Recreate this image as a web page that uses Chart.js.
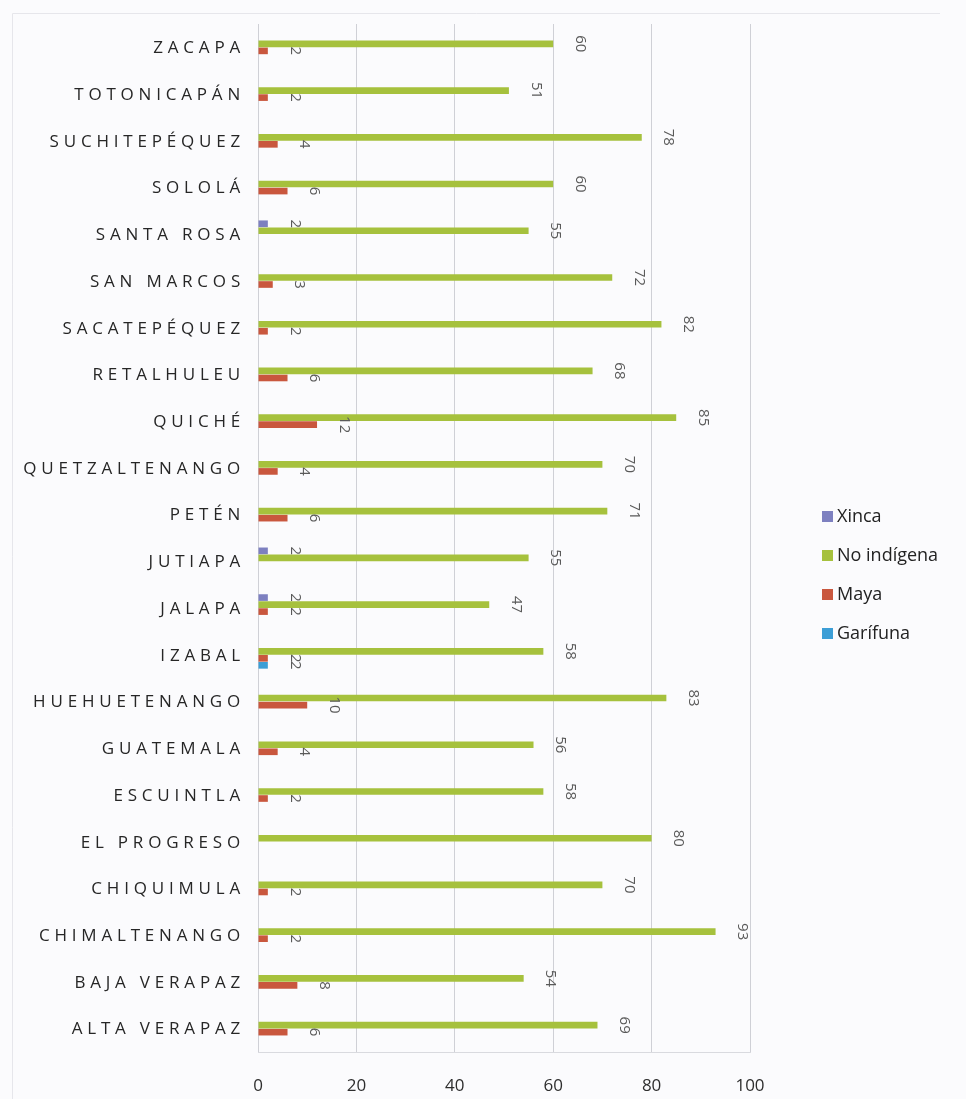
<!DOCTYPE html>
<html lang="es">
<head>
<meta charset="utf-8">
<title>Población por departamento</title>
<script src="https://cdn.jsdelivr.net/npm/chart.js@4.4.1/dist/chart.umd.min.js"></script>
<style>
  html, body { margin: 0; padding: 0; background: #fbfbfd; }
  #wrap { width: 966px; height: 1099px; }
</style>
</head>
<body>
<div id="wrap"><canvas id="myChart" width="966" height="1099"></canvas></div>
<script>
'use strict';
//Data (top to bottom as in the chart)
const departamentos = ['ZACAPA', 'TOTONICAPÁN', 'SUCHITEPÉQUEZ', 'SOLOLÁ', 'SANTA ROSA', 'SAN MARCOS',
  'SACATEPÉQUEZ', 'RETALHULEU', 'QUICHÉ', 'QUETZALTENANGO', 'PETÉN', 'JUTIAPA', 'JALAPA', 'IZABAL',
  'HUEHUETENANGO', 'GUATEMALA', 'ESCUINTLA', 'EL PROGRESO', 'CHIQUIMULA', 'CHIMALTENANGO',
  'BAJA VERAPAZ', 'ALTA VERAPAZ'];
const xinca = [null, null, null, null, 2, null, null, null, null, null, null, 2, 2, null,
  null, null, null, null, null, null, null, null];
const noIndigena = [60, 51, 78, 60, 55, 72, 82, 68, 85, 70, 71, 55, 47, 58,
  83, 56, 58, 80, 70, 93, 54, 69];
const maya = [2, 2, 4, 6, null, 3, 2, 6, 12, 4, 6, null, 2, 2,
  10, 4, 2, null, 2, 2, 8, 6];
const garifuna = [null, null, null, null, null, null, null, null, null, null, null, null, null, 2,
  null, null, null, null, null, null, null, null];
const seriesNames = ['Xinca', 'No indígena', 'Maya', 'Garífuna'];
const xTickValues = [0, 20, 40, 60, 80, 100];

//Styles
const seriesColors = ['#7d80c0', '#a6c13d', '#c9573e', '#3c9ed6'];
const bgColor = '#fbfbfd';
const gridColor = '#cfd0d6';
const ctx_myChart = document.getElementById('myChart').getContext('2d');

//Plugins
const backgroundPlugin = {
  id: 'background',
  beforeDraw(chart){
    const ctx = chart.ctx;
    ctx.save();
    ctx.fillStyle = bgColor;
    ctx.fillRect(0, 0, chart.width, chart.height);
    // faint frame of the original sheet
    ctx.strokeStyle = '#e6e6eb';
    ctx.lineWidth = 1;
    ctx.beginPath();
    ctx.moveTo(12.5, 1099);
    ctx.lineTo(12.5, 13.5);
    ctx.lineTo(940, 13.5);
    ctx.stroke();
    ctx.restore();
  }
};

// category names, spaced out like the original
const categoryLabelsPlugin = {
  id: 'categoryLabels',
  afterDraw(chart){
    const ctx = chart.ctx;
    const yScale = chart.scales.y;
    ctx.save();
    ctx.font = '17px "Open Sans"';
    ctx.fillStyle = '#262626';
    ctx.textAlign = 'right';
    ctx.textBaseline = 'middle';
    ctx.letterSpacing = '4.8px';
    for(let i = 0; i < departamentos.length; i++){
      ctx.fillText(departamentos[i], 245, yScale.getPixelForValue(i) + 1);
    }
    ctx.restore();
  }
};

// rotated value labels after each bar
const valueLabelsPlugin = {
  id: 'valueLabels',
  afterDatasetsDraw(chart){
    const ctx = chart.ctx;
    ctx.save();
    ctx.font = '15px "Open Sans"';
    ctx.fillStyle = '#5a5a5a';
    ctx.textAlign = 'center';
    ctx.textBaseline = 'middle';
    chart.data.datasets.forEach((dataset, i) => {
      const meta = chart.getDatasetMeta(i);
      meta.data.forEach((bar, j) => {
        const value = dataset.data[j];
        if(value === null) return;
        ctx.save();
        ctx.translate(bar.x + 27, bar.y);
        ctx.rotate(Math.PI / 2);
        ctx.fillText(String(value), 0, 0);
        ctx.restore();
      });
    });
    ctx.restore();
  }
};

const legendPlugin = {
  id: 'sideLegend',
  afterDraw(chart){
    const ctx = chart.ctx;
    ctx.save();
    ctx.font = '18px "Open Sans"';
    ctx.textAlign = 'left';
    ctx.textBaseline = 'middle';
    for(let i = 0; i < chart.data.datasets.length; i++){
      const y = 517 + i * 39;
      ctx.fillStyle = chart.data.datasets[i].backgroundColor;
      ctx.fillRect(822, y - 6, 11, 11);
      ctx.fillStyle = '#222222';
      ctx.fillText(chart.data.datasets[i].label, 837, y);
    }
    ctx.restore();
  }
};

//Chart
const chart = new Chart(ctx_myChart, {
  type: 'bar',
  data: {
    labels: departamentos,
    datasets: [
      { label: seriesNames[0], data: xinca, backgroundColor: seriesColors[0] },
      { label: seriesNames[1], data: noIndigena, backgroundColor: seriesColors[1] },
      { label: seriesNames[2], data: maya, backgroundColor: seriesColors[2] },
      { label: seriesNames[3], data: garifuna, backgroundColor: seriesColors[3] }
    ]
  },
  options: {
    indexAxis: 'y',
    responsive: false,
    devicePixelRatio: 1,
    animation: false,
    categoryPercentage: 0.6,
    barPercentage: 0.95,
    layout: { padding: { top: 24, right: 216, bottom: 0, left: 0 } },
    plugins: {
      legend: { display: false },
      tooltip: { enabled: false }
    },
    scales: {
      x: {
        min: 0,
        max: 100,
        afterBuildTicks: scale => { scale.ticks = xTickValues.map(v => ({ value: v })); },
        afterFit: scale => { scale.height = 47; },
        grid: { color: gridColor, drawTicks: false },
        border: { display: true, color: '#d9dadf' },
        ticks: {
          padding: 24,
          color: '#2e2e2e',
          font: { family: '"Open Sans"', size: 17 }
        }
      },
      y: {
        afterFit: scale => { scale.width = 258; },
        grid: { display: false },
        border: { display: false },
        ticks: { display: false }
      }
    }
  },
  plugins: [backgroundPlugin, categoryLabelsPlugin, valueLabelsPlugin, legendPlugin]
});
</script>
</body>
</html>
